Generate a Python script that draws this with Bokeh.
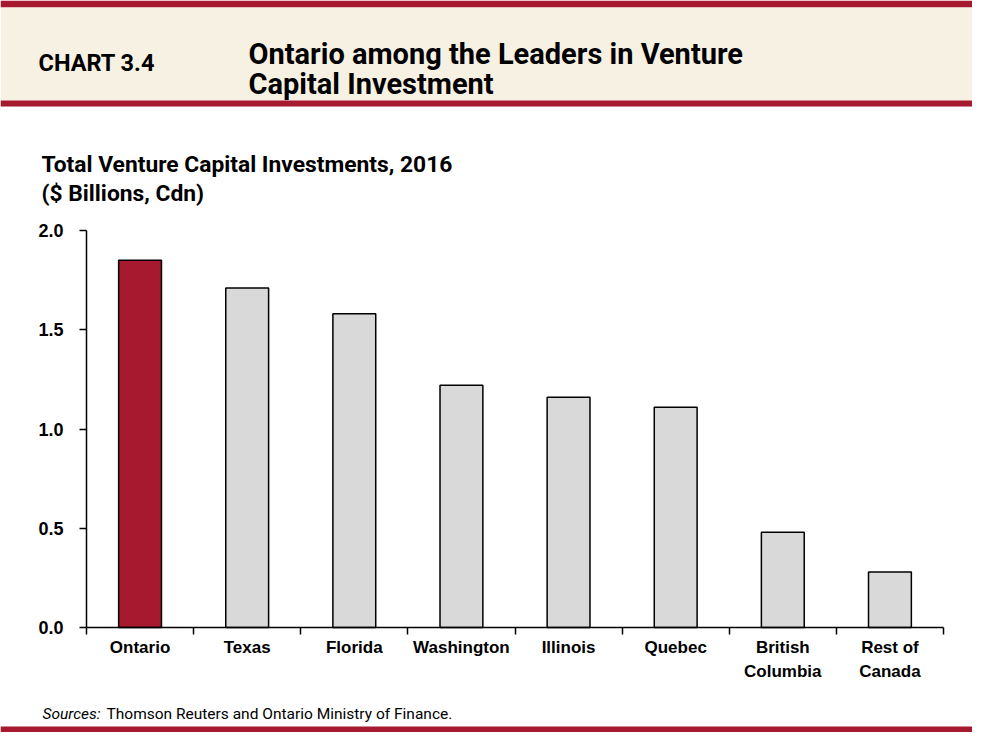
from bokeh.plotting import figure
from bokeh.models import Range1d, FixedTicker, ColumnDataSource, LinearAxis
from bokeh.core.properties import value
from bokeh.embed import file_html
from bokeh.resources import INLINE

# ---- data ----
categories = ["Ontario", "Texas", "Florida", "Washington", "Illinois", "Quebec",
              "British\nColumbia", "Rest of\nCanada"]
investments = [1.85, 1.71, 1.58, 1.22, 1.16, 1.11, 0.48, 0.28]
bar_colors = ["#A6192E", "#D9D9D9", "#D9D9D9", "#D9D9D9", "#D9D9D9", "#D9D9D9", "#D9D9D9", "#D9D9D9"]
y_ticks = [0.0, 0.5, 1.0, 1.5, 2.0]

chart_label = "CHART 3.4"
title_lines = ["Ontario among the Leaders in Venture", "Capital Investment"]
subtitle_lines = ["Total Venture Capital Investments, 2016", "($ Billions, Cdn)"]
source_label = "Sources:"
source_text = "Thomson Reuters and Ontario Ministry of Finance."

RED = "#A6192E"
BEIGE = "#F7F1E4"
SANS = "Liberation Sans"
HEAD = "Roboto"
W, H = 972, 732

# plot area placement (canvas pixels)
X0, X1 = 86, 943      # category axis extent
Y0, Y1 = 627, 230     # value 0 and value 2.0
n = len(categories)
ymax = 2.0
ux = (X1 - X0) / n
uy = (Y0 - Y1) / ymax

p = figure(width=W, height=H,
           x_range=Range1d(-X0 / ux, (W - X0) / ux),
           y_range=Range1d(-(H - Y0) / uy, ymax + Y1 / uy),
           output_backend="svg", toolbar_location=None, min_border=0,
           x_axis_location=None, y_axis_location=None)
p.extra_x_ranges = {"px": Range1d(0, W)}
p.extra_y_ranges = {"px": Range1d(H, 0)}
p.grid.visible = False
p.outline_line_color = None
p.background_fill_color = "white"
p.border_fill_color = "white"

def band(top, bottom, color):
    p.quad(left=[0], right=[W], top=[top], bottom=[bottom], fill_color=color, line_color=None,
           x_range_name="px", y_range_name="px")

def txt(xs, ys, texts, font, size, style="normal"):
    p.text(x=xs, y=ys, text=texts, text_font=value(font), text_font_style=style,
           text_font_size=size, text_color="black", text_baseline="alphabetic",
           x_range_name="px", y_range_name="px")

# ---- header ----
band(0, 7, RED)
band(7, 100, BEIGE)
band(100, 106, RED)
txt([38], [62], [chart_label], HEAD, "23.5px", "bold")
txt([248, 248], [53, 83], title_lines, HEAD, "29px", "bold")
txt([41, 41], [164, 193], subtitle_lines, HEAD, "22.8px", "bold")

# ---- bars ----
xs = [i + 0.5 for i in range(n)]
src = ColumnDataSource(dict(x=xs, top=investments, color=bar_colors))
p.vbar(x="x", top="top", width=0.4, bottom=0, source=src, fill_color="color",
       line_color="black", line_width=1.5)

# ---- axes ----
ya = LinearAxis(fixed_location=0, bounds=(0, ymax))
ya.ticker = FixedTicker(ticks=y_ticks)
ya.major_label_overrides = {t: f"{t:.1f}" for t in y_ticks}
ya.major_tick_out = 7
ya.major_tick_in = 0
ya.minor_tick_line_color = None
ya.axis_line_width = 1.5
ya.major_tick_line_width = 1.5
ya.major_label_standoff = 16
ya.major_label_text_font = SANS
ya.major_label_text_font_style = "bold"
ya.major_label_text_font_size = "18px"
ya.major_label_text_color = "black"
p.add_layout(ya, "left")

xa = LinearAxis(fixed_location=0, bounds=(0, n))
xa.ticker = FixedTicker(ticks=xs, minor_ticks=list(range(n + 1)))
xa.major_label_overrides = {x: c for x, c in zip(xs, categories)}
xa.major_tick_line_color = None
xa.major_tick_out = 7
xa.major_tick_in = 0
xa.minor_tick_out = 7
xa.minor_tick_in = 0
xa.minor_tick_line_width = 1.5
xa.minor_tick_line_color = "black"
xa.axis_line_width = 1.5
xa.major_label_standoff = 3
xa.major_label_text_font = SANS
xa.major_label_text_font_style = "bold"
xa.major_label_text_font_size = "17px"
xa.major_label_text_line_height = 1.3
xa.major_label_text_color = "black"
p.add_layout(xa, "below")

# ---- footer ----
txt([42], [713], [source_label], HEAD, "15.5px", "italic")
txt([106], [713], [source_text], HEAD, "15.5px")
band(726, 732, RED)

open("out.html", "w").write(file_html(p, INLINE))
